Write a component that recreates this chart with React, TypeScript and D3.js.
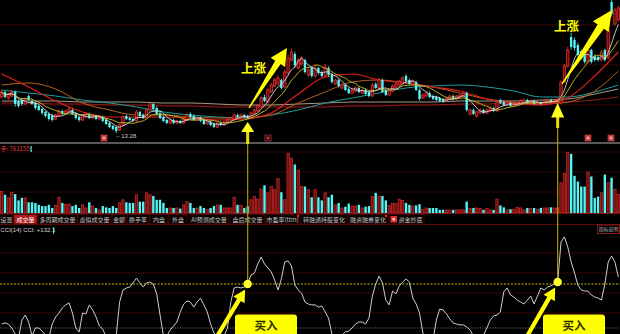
import React from "react";
import * as d3 from "d3";

// ---------- DATA ----------
// candles: [open, high, low, close]
const candles: [number, number, number, number][] = [
  [15.08, 15.45, 15.0, 15.33], [15.33, 15.4, 15.0, 15.08], [15.03, 15.3, 14.95, 15.23], [15.13, 15.42, 15.05, 15.33],
  [15.33, 15.4, 14.6, 14.73], [14.88, 14.95, 14.55, 14.63], [14.93, 15.0, 14.65, 14.73], [14.73, 15.05, 14.68, 14.98],
  [15.13, 15.2, 14.88, 14.93], [14.88, 14.95, 14.68, 14.73], [14.78, 14.85, 14.45, 14.53], [14.63, 14.7, 14.38, 14.43],
  [14.48, 14.55, 14.2, 14.28], [14.33, 14.4, 14.05, 14.13], [14.23, 14.3, 13.9, 13.98], [14.18, 14.25, 13.85, 13.93],
  [13.98, 14.25, 13.92, 14.18], [14.13, 14.45, 14.08, 14.38], [14.38, 14.45, 14.18, 14.23], [14.23, 14.45, 14.18, 14.38],
  [14.33, 14.58, 14.28, 14.48], [14.43, 14.5, 14.18, 14.23], [14.28, 14.35, 13.95, 14.03], [14.08, 14.15, 13.85, 13.93],
  [13.93, 14.2, 13.88, 14.13], [14.08, 14.3, 14.03, 14.23], [14.23, 14.3, 13.98, 14.03], [14.03, 14.2, 13.98, 14.13],
  [14.13, 14.2, 13.92, 13.98], [13.98, 14.15, 13.92, 14.08], [14.08, 14.15, 13.82, 13.88], [13.93, 14.0, 13.68, 13.73],
  [13.78, 13.85, 13.52, 13.58], [13.63, 13.7, 13.42, 13.48], [13.58, 13.65, 13.28, 13.38], [13.43, 13.75, 13.38, 13.68],
  [13.68, 14.15, 13.62, 14.08], [14.13, 14.2, 13.92, 13.98], [14.03, 14.1, 13.88, 13.93], [13.98, 14.05, 13.82, 13.88],
  [13.88, 14.42, 13.82, 14.33], [14.33, 14.4, 14.08, 14.13], [14.18, 14.25, 13.98, 14.03], [14.03, 14.5, 13.98, 14.43],
  [14.43, 14.85, 14.38, 14.73], [14.73, 14.8, 14.42, 14.48], [14.53, 14.6, 14.18, 14.23], [14.28, 14.35, 13.98, 14.03],
  [14.08, 14.15, 13.82, 13.88], [13.93, 14.0, 13.72, 13.78], [13.78, 14.0, 13.72, 13.93], [13.93, 14.0, 13.72, 13.78],
  [13.78, 13.95, 13.72, 13.88], [13.88, 13.95, 13.72, 13.78], [13.78, 14.05, 13.72, 13.98], [13.93, 14.28, 13.88, 14.18],
  [14.23, 14.32, 14.02, 14.08], [14.13, 14.2, 13.88, 13.93], [13.93, 14.1, 13.88, 14.03], [14.03, 14.1, 13.82, 13.88],
  [13.93, 14.0, 13.68, 13.73], [13.73, 13.9, 13.68, 13.83], [13.83, 13.9, 13.62, 13.68], [13.73, 13.8, 13.52, 13.58],
  [13.58, 13.85, 13.52, 13.78], [13.78, 13.85, 13.62, 13.68], [13.68, 13.9, 13.62, 13.83], [13.83, 14.0, 13.78, 13.93],
  [13.93, 14.1, 13.88, 14.03], [13.98, 14.25, 13.92, 14.18], [14.18, 14.25, 14.02, 14.08], [14.08, 14.25, 14.02, 14.18],
  [14.18, 14.25, 14.02, 14.08], [14.13, 14.2, 13.98, 14.03], [14.03, 14.35, 13.98, 14.28], [14.23, 14.5, 14.18, 14.43],
  [14.38, 14.7, 14.33, 14.63], [14.58, 15.12, 14.53, 15.03], [15.08, 15.2, 14.82, 14.88], [14.83, 15.55, 14.78, 15.43],
  [15.33, 15.8, 15.28, 15.68], [15.63, 16.05, 15.58, 15.93], [15.73, 16.2, 15.68, 16.03], [15.93, 16.0, 15.45, 15.53],
  [15.58, 16.45, 15.52, 16.33], [16.28, 17.2, 16.2, 17.03], [16.93, 17.5, 16.85, 17.33], [17.23, 17.35, 16.55, 16.68],
  [16.53, 17.05, 16.45, 16.93], [16.73, 17.15, 16.65, 17.03], [16.93, 17.0, 16.25, 16.33], [16.18, 16.55, 16.1, 16.43],
  [16.53, 16.62, 16.05, 16.13], [16.13, 16.65, 16.05, 16.53], [16.53, 16.6, 16.2, 16.28], [16.33, 16.4, 16.05, 16.13],
  [16.13, 16.75, 16.08, 16.58], [16.53, 16.62, 16.1, 16.18], [16.23, 16.3, 15.75, 15.83], [15.73, 16.0, 15.68, 15.93],
  [15.93, 16.0, 15.55, 15.63], [15.53, 15.75, 15.48, 15.68], [15.68, 15.75, 15.38, 15.43], [15.48, 15.55, 15.22, 15.28],
  [15.28, 15.5, 15.22, 15.43], [15.38, 15.6, 15.32, 15.53], [15.53, 15.6, 15.28, 15.33], [15.28, 15.5, 15.22, 15.43],
  [15.43, 15.5, 15.18, 15.23], [15.33, 15.4, 15.05, 15.13], [15.13, 15.78, 15.08, 15.68], [15.73, 15.82, 15.48, 15.53],
  [15.53, 16.05, 15.48, 15.93], [15.93, 16.0, 15.28, 15.33], [15.43, 15.5, 15.12, 15.18], [15.18, 15.5, 15.12, 15.43],
  [15.38, 15.7, 15.32, 15.63], [15.58, 15.8, 15.52, 15.73], [15.68, 15.95, 15.62, 15.88], [15.78, 16.12, 15.72, 16.03],
  [16.13, 16.22, 15.82, 15.88], [15.93, 16.0, 15.68, 15.73], [15.73, 15.95, 15.68, 15.88], [15.83, 15.9, 15.38, 15.43],
  [15.43, 15.5, 14.9, 14.98], [15.03, 15.25, 14.98, 15.18], [15.13, 15.35, 15.08, 15.28], [15.28, 15.35, 15.02, 15.08],
  [15.13, 15.2, 14.92, 14.98], [15.08, 15.15, 14.88, 14.93], [15.03, 15.1, 14.82, 14.88], [14.98, 15.05, 14.78, 14.83],
  [14.88, 15.1, 14.82, 15.03], [14.98, 15.2, 14.92, 15.13], [15.13, 15.2, 14.92, 14.98], [14.98, 15.2, 14.92, 15.13],
  [15.08, 15.25, 15.02, 15.18], [15.13, 15.35, 15.08, 15.28], [15.28, 15.35, 14.35, 14.43], [14.23, 14.5, 14.15, 14.43],
  [14.43, 14.5, 14.18, 14.23], [14.13, 14.4, 14.05, 14.33], [14.28, 14.5, 14.22, 14.43], [14.43, 14.5, 14.22, 14.28],
  [14.28, 14.5, 14.22, 14.43], [14.38, 14.6, 14.32, 14.53], [14.53, 14.6, 14.32, 14.38], [14.38, 14.92, 14.32, 14.83],
  [14.93, 15.0, 14.72, 14.78], [14.83, 14.9, 14.62, 14.68], [14.68, 14.85, 14.62, 14.78], [14.78, 14.85, 14.58, 14.63],
  [14.63, 14.8, 14.58, 14.73], [14.68, 14.85, 14.62, 14.78], [14.73, 14.95, 14.68, 14.88], [14.83, 15.0, 14.78, 14.93],
  [14.93, 15.0, 14.72, 14.78], [14.78, 14.95, 14.72, 14.88], [14.88, 14.95, 14.68, 14.73], [14.73, 14.9, 14.68, 14.83],
  [14.83, 14.9, 14.68, 14.73], [14.73, 14.95, 14.68, 14.88], [14.83, 15.0, 14.78, 14.93], [14.93, 15.0, 14.78, 14.83],
  [14.83, 15.0, 14.78, 14.93], [14.88, 15.05, 14.82, 14.98], [14.78, 15.9, 14.72, 15.83], [15.83, 16.75, 15.78, 16.63],
  [16.63, 17.6, 16.55, 17.43], [18.08, 18.3, 17.45, 17.58], [17.93, 18.05, 17.4, 17.53], [17.68, 17.8, 17.1, 17.18],
  [17.33, 17.45, 16.95, 17.03], [17.23, 17.35, 16.75, 16.83], [16.83, 17.55, 16.75, 17.43], [17.43, 17.5, 16.75, 16.83],
  [17.13, 17.2, 16.85, 16.93], [17.08, 17.15, 16.85, 16.93], [16.93, 17.45, 16.88, 17.33], [17.43, 17.5, 16.85, 16.93],
  [17.03, 18.55, 16.95, 18.43], [19.83, 19.93, 19.1, 19.23], [18.73, 19.55, 18.65, 19.43], [18.93, 19.65, 18.85, 19.53],
];

// volume (万手)
const volumes: number[] = [
  34, 29, 24, 33, 30, 20, 24, 24, 17, 17, 16, 13, 11, 11, 13, 8, 12, 25, 16, 14,
  14, 11, 13, 8, 13, 8, 17, 11, 8, 5, 11, 9, 8, 11, 8, 16, 21, 17, 16, 16,
  29, 18, 18, 32, 29, 27, 21, 21, 16, 8, 8, 8, 8, 7, 13, 18, 16, 8, 8, 11,
  8, 6, 8, 11, 13, 13, 8, 8, 8, 25, 13, 12, 8, 11, 21, 26, 22, 38, 44, 32,
  42, 37, 55, 33, 21, 95, 87, 77, 68, 42, 42, 37, 25, 37, 25, 20, 32, 25, 29, 13,
  16, 8, 10, 15, 11, 11, 13, 8, 10, 11, 26, 32, 27, 27, 20, 12, 15, 15, 22, 20,
  16, 13, 11, 12, 14, 6, 8, 8, 8, 8, 5, 5, 5, 5, 5, 5, 5, 5, 18, 7,
  8, 8, 7, 5, 7, 5, 5, 22, 12, 9, 5, 6, 6, 9, 8, 5, 8, 7, 8, 6,
  8, 8, 8, 9, 8, 8, 48, 63, 96, 94, 59, 50, 42, 42, 65, 58, 24, 26, 32, 61,
  48, 56, 38, 30,
];

// CCI(14)
const cciValues: number[] = [
  -82, -77, -82, -100, -127, -145, -64, -41, -73, -136,
  -100, -100, -114, -132, -145, -82, -50, -32, -9, 5,
  14, -32, -100, -118, -32, -36, 5, -18, -50, -91,
  -105, -141, -155, -155, -132, 18, 73, 82, 86, 105,
  127, 105, 86, 105, 109, 100, 55, -41, -136, -136,
  -109, -91, -73, -27, 9, 23, 18, -5, 18, 36,
  5, -27, -82, -123, -136, -155, -136, -100, 18, 82,
  86, 82, 86, 100, 141, 150, 191, 223, 191, 173,
  155, 118, 73, 123, 200, 205, 182, 95, 73, 59,
  18, 9, 5, 5, -5, 0, -27, -55, -127, -155,
  -155, -132, -118, -114, -100, -82, -73, -73, -82, -55,
  45, 100, 136, 105, 27, 5, 68, 55, 91, 109,
  123, 109, 36, 9, -32, -123, -155, -155, -155, -64,
  -14, -18, -36, -59, -77, -82, -86, -86, -95, -109,
  -136, -155, -155, -132, -100, -64, -45, -41, -27, 64,
  82, 50, 41, 27, 18, 9, 27, 45, 9, 45,
  82, 73, 86, 91, 100, 109, 291, 314, 268, 200,
  150, 95, 73, 68, 68, 50, 41, 36, 27, 100,
  200, 227, 200, 132.1,
];

// long moving averages, sampled every 8 sessions
const maIndex = [0, 8, 16, 24, 32, 40, 48, 56, 64, 72, 80, 88, 96, 104, 112, 120, 128, 136, 144, 152, 160, 168, 176, 183];
const ma20 = [16.23, 15.58, 14.88, 14.33, 14.08, 14.08, 14.08, 14.03, 13.93, 13.98, 14.28, 15.23, 16.08, 16.23, 15.93, 15.78, 15.58, 15.38, 14.98, 14.78, 14.68, 15.03, 16.13, 17.33];
const ma30 = [15.68, 15.78, 15.48, 14.78, 14.43, 14.18, 14.18, 14.08, 14.03, 14.03, 14.18, 14.78, 15.33, 15.83, 15.93, 15.78, 15.58, 15.28, 14.98, 14.83, 14.73, 14.83, 15.38, 16.38];
const ma60 = [15.43, 15.28, 15.13, 14.93, 14.78, 14.58, 14.33, 14.18, 14.08, 14.03, 14.18, 14.43, 14.78, 15.03, 15.28, 15.53, 15.63, 15.68, 15.58, 15.38, 15.08, 15.08, 15.33, 15.68];
const ma120 = [14.88, 14.88, 14.88, 14.83, 14.83, 14.83, 14.78, 14.78, 14.73, 14.68, 14.68, 14.73, 14.78, 14.83, 14.83, 14.83, 14.83, 14.88, 14.88, 14.88, 14.93, 14.98, 15.23, 15.48];
const ma250 = [14.78, 14.78, 14.73, 14.73, 14.68, 14.68, 14.63, 14.63, 14.58, 14.58, 14.58, 14.58, 14.58, 14.63, 14.63, 14.68, 14.68, 14.73, 14.73, 14.78, 14.78, 14.83, 14.93, 15.08];

const signalIdx = [73, 165];
const lowLabel = "13.28";
const lastVolume = "761155";
const lastCci = "+132.1";

const tabLabels = ["设置", "成交量", "多周期成交量", "虚拟成交量", "金额", "换手率", "内盘", "外盘", "AI预测成交量", "盘后成交量", "市盈率(ttm)", "转融通持股变化", "融资融券变化", "资金抄底"];

// ---------- LAYOUT ----------
const W = 620;
const H = 334;
const tabBox: [number, number][] = [[0, 13], [14, 37], [38, 77], [78, 111], [112, 126], [127, 149], [150, 168], [169, 187], [190, 228], [230, 265], [266, 299], [301, 347], [349, 387], [389, 424]];

function arrowPath(x0: number, y0: number, x1: number, y1: number, wTail: number, wBase: number, headW: number, headL: number) {
  const dx = x1 - x0, dy = y1 - y0;
  const len = Math.hypot(dx, dy);
  const ux = dx / len, uy = dy / len;
  const nx = -uy, ny = ux;
  const bx = x1 - ux * headL, by = y1 - uy * headL;
  const pts = [
    [x0 + nx * wTail, y0 + ny * wTail],
    [bx + nx * wBase, by + ny * wBase],
    [bx + nx * headW, by + ny * headW],
    [x1, y1],
    [bx - nx * headW, by - ny * headW],
    [bx - nx * wBase, by - ny * wBase],
    [x0 - nx * wTail, y0 - ny * wTail],
  ];
  return "M" + pts.map((p) => p[0].toFixed(2) + "," + p[1].toFixed(2)).join("L") + "Z";
}

export default function App() {
  const N = candles.length;
  const x = d3.scaleBand<number>().domain(d3.range(N)).range([0, W]).paddingInner(0.3).paddingOuter(0.15);
  const bw = x.bandwidth();
  const xc = (i: number) => (x(i) as number) + bw / 2;
  const yP = d3.scaleLinear().domain([12.78, 19.93]).range([143, 0]);
  const yV = d3.scaleLinear().domain([0, 100]).range([213, 150]);
  const yC = d3.scaleLinear().domain([0, 100]).range([306, 284]);

  const closes = candles.map((c) => c[3]);
  const sma = (n: number) => closes.map((_, i) => d3.mean(closes.slice(Math.max(0, i - n + 1), i + 1)) as number);
  const ma5 = sma(5);
  const ma10 = sma(10);

  const lineDense = d3.line<number>().x((_, i) => xc(i)).y((v) => yP(v)).curve(d3.curveMonotoneX);
  const lineSparse = (vals: number[]) =>
    d3.line<number>().x((_, k) => xc(maIndex[k])).y((v) => yP(v)).curve(d3.curveMonotoneX)(vals) || "";
  const cciLine = d3.line<number>().x((_, i) => xc(i)).y((v) => yC(v))(cciValues) || "";

  const RED = "#ff3434";
  const RED_FILL = "#5e0a0a";
  const CYAN = "#54f6f6";
  const GRID = "#3c0606";
  const cjk = "'Noto Sans CJK SC', 'Noto Sans', sans-serif";
  const latin = "'Liberation Sans', Arial, sans-serif";

  const s1 = signalIdx[0], s2 = signalIdx[1];
  const c1 = { x: xc(s1), y: yC(cciValues[s1]) };
  const c2 = { x: xc(s2), y: yC(cciValues[s2]) };

  return (
    <svg width={W} height={H} viewBox={`0 0 ${W} ${H}`} style={{ display: "block", position: "absolute", left: 0, top: 0, background: "#000" }}>
      <defs>
        <clipPath id="pc"><rect x={0} y={0} width={W} height={142} /></clipPath>
        <clipPath id="cc"><rect x={0} y={233} width={W} height={H - 233} /></clipPath>
      </defs>
      <rect x={0} y={0} width={W} height={H} fill="#000" />

      {/* price grid */}
      {[25, 65, 105].map((gy) => (
        <line key={gy} x1={0} x2={W} y1={gy} y2={gy} stroke={GRID} strokeWidth={1} />
      ))}
      {/* volume grid */}
      {[152, 172, 192].map((gy) => (
        <line key={gy} x1={0} x2={W} y1={gy} y2={gy} stroke="#2a0404" strokeWidth={1} />
      ))}
      {/* cci grid */}
      {[253, 273, 293, 313].map((gy) => (
        <line key={gy} x1={0} x2={W} y1={gy} y2={gy} stroke="#3a0505" strokeWidth={1} />
      ))}

      {/* long MAs */}
      <g clipPath="url(#pc)" fill="none" strokeWidth={1}>
        <path d={lineSparse(ma250)} stroke="#9a1c1c" />
        <path d={lineSparse(ma120)} stroke="#a89a86" />
        <path d={lineSparse(ma60)} stroke="#1e9c9c" />
        <path d={lineSparse(ma30)} stroke="#b8601c" />
        <path d={lineSparse(ma20)} stroke="#e01e1e" strokeWidth={1.2} />
      </g>

      {/* candles */}
      <g clipPath="url(#pc)">
        {candles.map((c, i) => {
          const [o, h, l, cl] = c;
          const up = cl >= o;
          const col = up ? RED : CYAN;
          const top = yP(Math.max(o, cl));
          const bot = yP(Math.min(o, cl));
          return (
            <g key={i}>
              <line x1={xc(i)} x2={xc(i)} y1={yP(h)} y2={yP(l)} stroke={col} strokeWidth={0.8} />
              <rect
                x={x(i) as number}
                y={top}
                width={bw}
                height={Math.max(1, bot - top)}
                fill={up ? RED_FILL : CYAN}
                stroke={up ? RED : "none"}
                strokeWidth={up ? 0.7 : 0}
              />
            </g>
          );
        })}
      </g>

      {/* short MAs */}
      <g clipPath="url(#pc)" fill="none">
        <path d={lineDense(ma10) || ""} stroke="#b8b020" strokeWidth={1} />
        <path d={lineDense(ma5) || ""} stroke="#d8d8d8" strokeWidth={0.9} />
      </g>

      {/* low label */}
      <text x={xc(34) - 1} y={yP(13.28) + 5} fill="#cfcfcf" fontSize={6} fontFamily={latin}>
        {"←" + lowLabel}
      </text>

      {/* event markers */}
      {[101, 265, 585, 608].map((mx, k) => (
        <g key={k}>
          <rect x={mx} y={135} width={6} height={6} fill={k === 1 ? "none" : "#b83030"} stroke="#e04a4a" strokeWidth={0.6} />
          <rect x={mx + 1.5} y={136.5} width={3} height={3} fill={k === 1 ? "#d03030" : "#f0a0a0"} />
        </g>
      ))}

      {/* panel separator */}
      <rect x={0} y={142} width={W} height={2} fill="#5a5a5a" />

      {/* volume label */}
      <text x={0.5} y={150.5} fill="#e83a3a" fontSize={6} fontFamily={cjk}>
        {"手: " + lastVolume}
      </text>
      <rect x={30.5} y={146} width={1.2} height={6} fill={CYAN} />

      {/* volume bars */}
      {volumes.map((v, i) => {
        const up = candles[i][3] >= candles[i][0];
        const y0 = yV(v);
        return (
          <rect
            key={i}
            x={x(i) as number}
            y={y0}
            width={bw}
            height={yV(0) - y0}
            fill={up ? "#6a0e0e" : CYAN}
            stroke={up ? "#d42a2a" : "none"}
            strokeWidth={up ? 0.7 : 0}
          />
        );
      })}
      <line x1={0} x2={W} y1={213.5} y2={213.5} stroke="#7a1414" strokeWidth={1} />

      {/* tab bar */}
      <line x1={0} x2={W} y1={224.5} y2={224.5} stroke="#5a0a0a" strokeWidth={1} />
      {tabLabels.map((t, k) => {
        const [a, b] = tabBox[k];
        const active = k === 1;
        return (
          <g key={k}>
            <rect x={a} y={214.5} width={b - a} height={9.5} fill={active ? "#b01c1c" : "#080000"} stroke="#4e0a0a" strokeWidth={0.8} />
            <text x={(a + b) / 2 + (k === 13 ? 4 : 0)} y={221.8} textAnchor="middle" fill={active ? "#ffffff" : "#c4c4c4"} fontSize={6} fontFamily={cjk}>
              {t}
            </text>
          </g>
        );
      })}
      <rect x={297} y={215} width={2} height={2} fill="#ff2020" />
      <rect x={385} y={215} width={2} height={2} fill="#ff2020" />
      <rect x={390.5} y={216} width={6.5} height={6.5} fill="#e83030" />
      <rect x={392.5} y={218} width={2.5} height={2.5} fill="#ffd0d0" />

      {/* CCI label */}
      <text x={0.5} y={232} fill="#d6d6d6" fontSize={6} fontFamily={latin}>
        {"CCI(14) CCI: " + lastCci}
      </text>
      <rect x={53} y={227.5} width={1.2} height={6} fill={CYAN} />

      {/* 指标说明 */}
      <rect x={597.5} y={225} width={22} height={8.5} fill="#000" stroke="#b02020" strokeWidth={0.8} />
      <text x={598.8} y={231.4} fill="#bdbdbd" fontSize={4.9} fontFamily={cjk}>指标说明</text>

      {/* CCI reference lines */}
      <line x1={0} x2={W} y1={yC(100)} y2={yC(100)} stroke="#c8c000" strokeWidth={1} strokeDasharray="2,1.5" />
      <line x1={0} x2={W} y1={yC(-100)} y2={yC(-100)} stroke="#7a7a7a" strokeWidth={1} strokeDasharray="1,1.5" />

      {/* CCI line */}
      <g clipPath="url(#cc)">
        <path d={cciLine} fill="none" stroke="#cdcdcd" strokeWidth={1} />
      </g>

      {/* signal vertical lines */}
      <line x1={c1.x} x2={c1.x} y1={132} y2={c1.y} stroke="#a89c00" strokeWidth={1.2} />
      <rect x={c1.x - 1.5} y={131} width={3} height={13} fill="#e8e000" />
      <path d={`M${c1.x},122 L${c1.x + 6.5},132 L${c1.x - 6.5},132 Z`} fill="#ffff1e" />
      <line x1={c2.x} x2={c2.x} y1={117} y2={c2.y} stroke="#a89c00" strokeWidth={1.2} />
      <rect x={c2.x - 1.5} y={116} width={3} height={12} fill="#e8e000" />
      <path d={`M${c2.x},103 L${c2.x + 6.5},117.5 L${c2.x - 6.5},117.5 Z`} fill="#ffff1e" />

      {/* circles on CCI */}
      <circle cx={c1.x} cy={c1.y} r={4.2} fill="#ffff30" />
      <circle cx={c2.x} cy={c2.y} r={4.2} fill="#ffff30" />

      {/* 上涨 arrows */}
      <path d={arrowPath(249, 108, 287, 48, 0.6, 3.2, 8.5, 17)} fill="#ffff00" />
      <text x={241} y={73} fill="#ffff00" fontSize={12.5} fontWeight="bold" fontFamily={cjk}>上涨</text>
      <path d={arrowPath(562, 84, 612, 10, 0.6, 3.8, 9.5, 20)} fill="#ffff00" />
      <text x={554} y={31} fill="#ffff00" fontSize={12.5} fontWeight="bold" fontFamily={cjk}>上涨</text>

      {/* 买入 arrows and boxes */}
      <path d={arrowPath(216, 338, c1.x - 2.5, c1.y + 5.5, 2, 2.2, 6.5, 12)} fill="#ffff00" />
      <rect x={235} y={314.5} width={62} height={24} rx={3} fill="#ffff00" />
      <text x={266} y={330} textAnchor="middle" fill="#2a2a00" fontSize={11.5} fontWeight="bold" fontFamily={cjk}>买入</text>
      <path d={arrowPath(526, 338, c2.x - 2.5, c2.y + 5.5, 2, 2.2, 6.5, 12)} fill="#ffff00" />
      <rect x={543} y={314.5} width={62} height={24} rx={3} fill="#ffff00" />
      <text x={574} y={330} textAnchor="middle" fill="#2a2a00" fontSize={11.5} fontWeight="bold" fontFamily={cjk}>买入</text>
    </svg>
  );
}
